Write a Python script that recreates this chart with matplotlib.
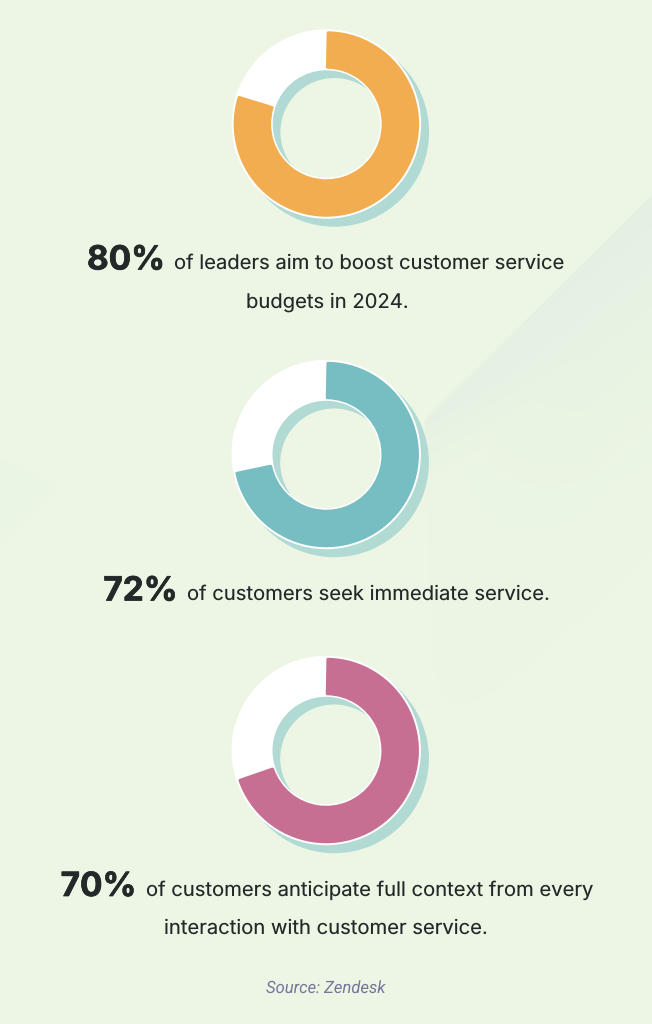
import numpy as np
import matplotlib
matplotlib.use("Agg")
import matplotlib.pyplot as plt
import matplotlib.patheffects as pe
from matplotlib.patches import Wedge, Polygon

plt.rcParams["text.hinting"] = "no_hinting"
W, H = 652, 1024
pcts = [80, 72, 70]
colors = ["#F2AD50", "#76BEC2", "#C76E93"]
headlines = ["80%", "72%", "70%"]
line_one = ["of leaders aim to boost customer service",
            "of customers seek immediate service.",
            "of customers anticipate full context from every"]
line_two = ["budgets in 2024.", "", "interaction with customer service."]
source = "Source: Zendesk"

BG = "#EDF6E4"
SHADOW = "#B0DAD3"
INK = "#232829"
fig = plt.figure(figsize=(W/100, H/100), dpi=100, facecolor=BG)
bg = fig.add_axes([0, 0, 1, 1])
bg.set_xlim(0, W); bg.set_ylim(H, 0); bg.axis("off")

# faint decorative shapes, fading away from the diagonal edge
yy, xx = np.mgrid[0:H, 0:W]
d = (xx + yy - 847) / np.sqrt(2)
fade = (np.clip(1 - d / 260, 0, 1) ** 1.5
        * np.clip((xx - 425) / 160 + np.clip(1 - d / 60, 0, 1), 0, 1)
        * np.clip(1 - (yy - 195) / 800, 0, 1))
rgba = np.zeros((H, W, 4))
rgba[..., :3] = matplotlib.colors.to_rgb("#E3F0E3")
rgba[..., 3] = fade
im = bg.imshow(rgba, extent=(0, W, H, 0), aspect="auto", zorder=0)
im.set_clip_path(Polygon([(652,195),(425,420),(425,1024),(652,1024)], closed=True, transform=bg.transData))
bg.add_patch(Polygon([(0,458),(58,485),(0,545)], closed=True, fc="#EBF5E4", ec="none", zorder=0))
bg.set_xlim(0, W); bg.set_ylim(H, 0)

centers = [(326.4, 124.0), (326.2, 454.5), (326.2, 750.5)]
R_OUT, R_IN = 94.7, 53.7
OFF = 8
for (cx, cy), p, c in zip(centers, pcts, colors):
    bg.add_patch(Wedge((cx+OFF, cy+OFF), R_OUT, 0, 360, width=R_OUT-54.0, fc=SHADOW, ec="none", zorder=1))
    bg.add_patch(Wedge((cx, cy), R_OUT, 0, 360, width=R_OUT-R_IN, fc="white", ec="none", zorder=2))
    ax = fig.add_axes([(cx-100)/W, 1-(cy+100)/H, 200/W, 200/H])
    ax.pie([p, 100-p], colors=[c, "none"], startangle=90, counterclock=False, radius=91.2,
           frame=False, wedgeprops=dict(width=34.4, edgecolor="none"))
    ax.set_xlim(-100, 100); ax.set_ylim(-100, 100); ax.axis("off")
    w = ax.patches[0]
    w.set_theta1(w.theta1 + 1.1); w.set_theta2(w.theta2 - 1.1)
    w.set_edgecolor(c); w.set_linewidth(2.2); w.set_joinstyle("round")
    ax.patches[1].set_visible(False)

def t(x, y, s, **k):
    bg.text(x, y, s, family="Inter", va="baseline", color=INK, zorder=5, **k)

BIG, SMALL = 24.0, 14.55
heavy = dict(fontsize=BIG, fontweight="bold", ha="center",
             path_effects=[pe.withStroke(linewidth=0.5, foreground=INK)])
t(126, 269.5, headlines[0], **heavy)
t(174, 269, line_one[0], fontsize=SMALL, ha="left")
t(327, 308, line_two[0], fontsize=SMALL, ha="center")
t(140.5, 600.5, headlines[1], **heavy)
t(187, 600, line_one[1], fontsize=SMALL, ha="left")
t(98.5, 896, headlines[2], **heavy)
t(146, 896, line_one[2], fontsize=SMALL, ha="left")
t(326, 934, line_two[2], fontsize=SMALL, ha="center")
bg.text(325.5, 993, source, family="Roboto", style="italic", fontsize=12.0, color="#74769A", ha="center", va="baseline", zorder=5)
fig.savefig("out.png", dpi=100, facecolor=BG)
